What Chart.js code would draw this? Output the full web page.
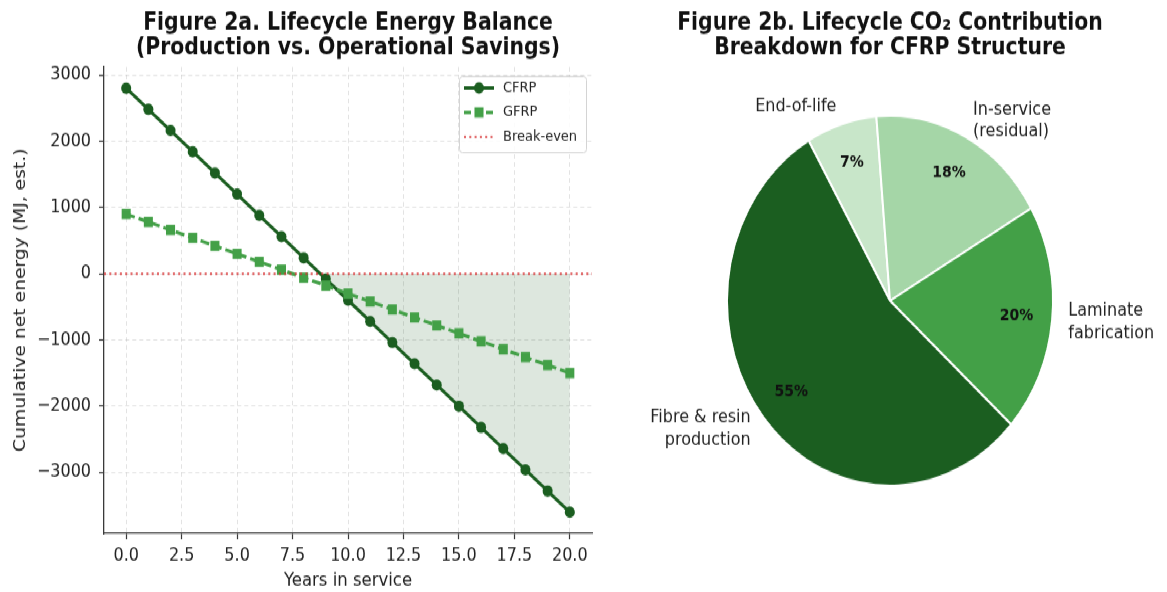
<!DOCTYPE html>
<html>
<head>
<meta charset="utf-8">
<script src="https://cdn.jsdelivr.net/npm/chart.js"></script>
<style>
  html, body { margin: 0; padding: 0; background: #ffffff; }
  #stage { position: relative; width: 1167px; height: 592px; overflow: hidden; }
  /* the figure is laid out on a 1167 x 522 board and stretched to 592 px tall */
  #board { position: absolute; left: 0; top: 0; width: 1167px; height: 522px;
           transform: scaleY(1.135); transform-origin: 0 0; }
  #energy { position: absolute; left: 0; top: 0; }
  #co2 { position: absolute; left: 610px; top: 0; }
</style>
</head>
<body>
<div id="stage">
  <div id="board">
    <canvas id="energy" width="610" height="522" style="width:610px;height:522px"></canvas>
    <canvas id="co2" width="560" height="522" style="width:560px;height:522px"></canvas>
  </div>
</div>
<script>
// ---- Figure 2a data: cumulative net energy (MJ) per year in service ----
const years = [0, 1, 2, 3, 4, 5, 6, 7, 8, 9, 10, 11, 12, 13, 14, 15, 16, 17, 18, 19, 20];
const cfrpEnergy = [2800, 2480, 2160, 1840, 1520, 1200, 880, 560, 240, -80, -400,
                    -720, -1040, -1360, -1680, -2000, -2320, -2640, -2960, -3280, -3600];
const gfrpEnergy = [900, 780, 660, 540, 420, 300, 180, 60, -60, -180, -300,
                    -420, -540, -660, -780, -900, -1020, -1140, -1260, -1380, -1500];
const breakEven = 0;
const yearTicks = [0, 2.5, 5, 7.5, 10, 12.5, 15, 17.5, 20];
const energyTicks = [-3000, -2000, -1000, 0, 1000, 2000, 3000];

// ---- Figure 2b data: lifecycle CO2 shares for the CFRP structure (%) ----
const co2Stages = ['Fibre & resin\nproduction', 'Laminate\nfabrication', 'In-service\n(residual)', 'End-of-life'];
const co2Shares = [55, 20, 18, 7];

const stageColors = ['#1b5e20', '#43a047', '#a5d6a7', '#c8e6c9'];
const FONT = 'DejaVu Sans';
Chart.defaults.font.family = FONT;
Chart.defaults.color = '#222222';

const toPoints = (ys) => years.map((x, i) => ({ x, y: ys[i] }));
const minus = (v) => (v < 0 ? '\u2212' + Math.abs(v) : String(v));

// Two-line bold heading centred over the plotting area
const figTitle = {
  id: 'figTitle',
  afterDraw(chart, args, opts) {
    const { ctx, chartArea } = chart;
    const cx = (chartArea.left + chartArea.right) / 2;
    ctx.save();
    ctx.font = 'bold 20.4px "' + FONT + '"';
    ctx.fillStyle = '#111111';
    ctx.textAlign = 'center';
    ctx.textBaseline = 'middle';
    opts.lines.forEach((t, k) => ctx.fillText(t, cx, opts.top + k * opts.gap));
    ctx.restore();
  }
};

// Framed key in the upper-right corner of the plot, with line + marker samples
const framedKey = {
  id: 'framedKey',
  afterDraw(chart) {
    const { ctx, chartArea } = chart;
    const items = chart.data.datasets.filter((d) => d.keyRank).sort((a, b) => a.keyRank - b.keyRank);
    const boxW = 127, rowH = 21.6, boxH = 67;
    const x0 = chartArea.right - 6 - boxW;
    const y0 = chartArea.top + 8;
    ctx.save();
    ctx.beginPath();
    ctx.roundRect(x0 + 0.5, y0 + 0.5, boxW, boxH, 3);
    ctx.fillStyle = 'rgba(255,255,255,0.85)';
    ctx.fill();
    ctx.strokeStyle = '#d4d4d4';
    ctx.lineWidth = 1;
    ctx.stroke();
    items.forEach((d, i) => {
      const cy = y0 + 10.5 + i * rowH;
      ctx.save();
      ctx.strokeStyle = d.borderColor;
      ctx.lineWidth = d.borderWidth;
      ctx.setLineDash(d.keyDash || d.borderDash || []);
      ctx.beginPath();
      ctx.moveTo(x0 + 5, cy);
      ctx.lineTo(x0 + 35, cy);
      ctx.stroke();
      ctx.restore();
      if (d.pointRadius > 0) {
        ctx.fillStyle = d.pointBackgroundColor;
        ctx.beginPath();
        if (d.pointStyle === 'rect') {
          const s = d.pointRadius * Math.SQRT1_2;
          ctx.rect(x0 + 20 - s, cy - s, 2 * s, 2 * s);
        } else {
          ctx.arc(x0 + 20, cy, d.pointRadius, 0, Math.PI * 2);
        }
        ctx.fill();
      }
      ctx.fillStyle = '#222222';
      ctx.font = '13px "' + FONT + '"';
      ctx.textAlign = 'left';
      ctx.textBaseline = 'middle';
      ctx.fillText(d.label, x0 + 44, cy);
    });
    ctx.restore();
  }
};

new Chart(document.getElementById('energy'), {
  type: 'line',
  data: {
    datasets: [
      {
        label: 'Break-even',
        data: [{ x: -1, y: breakEven }, { x: 21, y: breakEven }],
        borderColor: 'rgba(214,48,49,0.85)',
        borderWidth: 2,
        borderDash: [2, 3.3],
        pointRadius: 0,
        keyRank: 3,
        order: 0
      },
      {
        label: 'GFRP',
        data: toPoints(gfrpEnergy),
        borderColor: '#43a047',
        borderWidth: 3,
        borderDash: [9, 4],
        keyDash: [7, 4],
        pointStyle: 'rect',
        pointRadius: 6.4,
        pointBackgroundColor: '#43a047',
        pointBorderWidth: 0,
        keyRank: 2,
        order: 1
      },
      {
        label: 'CFRP',
        data: toPoints(cfrpEnergy),
        borderColor: '#1b5e20',
        borderWidth: 3,
        pointStyle: 'circle',
        pointRadius: 5,
        pointBackgroundColor: '#1b5e20',
        pointBorderWidth: 0,
        keyRank: 1,
        order: 2
      },
      {
        label: 'Net saving',
        data: toPoints(cfrpEnergy).filter((p) => p.y < breakEven),
        fill: { value: breakEven },
        backgroundColor: 'rgba(27,94,32,0.15)',
        borderColor: 'rgba(27,94,32,0.15)',
        borderWidth: 0,
        pointRadius: 0,
        keyRank: 0,
        order: 3
      }
    ]
  },
  options: {
    responsive: false,
    animation: false,
    events: [],
    layout: { padding: { left: 0, right: 18, top: 59, bottom: 0 } },
    plugins: {
      legend: { display: false },
      tooltip: { enabled: false },
      figTitle: {
        lines: ['Figure 2a. Lifecycle Energy Balance', '(Production vs. Operational Savings)'],
        top: 20.3,
        gap: 22.9
      }
    },
    scales: {
      x: {
        type: 'linear',
        min: -1,
        max: 21,
        afterBuildTicks: (s) => { s.ticks = yearTicks.map((v) => ({ value: v })); },
        afterFit: (s) => { s.height = 52; },
        ticks: { callback: (v) => Number(v).toFixed(1), font: { size: 16 }, color: '#222222', padding: 5, maxRotation: 0 },
        grid: { color: 'rgba(176,176,176,0.35)', lineWidth: 1, tickLength: 5, tickColor: '#3a3a3a', tickWidth: 1.2, tickBorderDash: [] },
        border: { display: true, color: '#3a3a3a', width: 1.3, dash: [4, 3] },
        title: { display: true, text: 'Years in service', font: { size: 16.5 }, color: '#222222', padding: { top: 0, bottom: 0 } }
      },
      y: {
        type: 'linear',
        min: -3920,
        max: 3120,
        afterBuildTicks: (s) => { s.ticks = energyTicks.map((v) => ({ value: v })); },
        afterFit: (s) => { s.width = 104; },
        ticks: { callback: (v) => minus(v), font: { size: 16 }, color: '#222222', padding: 8 },
        grid: { color: 'rgba(176,176,176,0.35)', lineWidth: 1, tickLength: 5, tickColor: '#3a3a3a', tickWidth: 1.2, tickBorderDash: [] },
        border: { display: true, color: '#3a3a3a', width: 1.3, dash: [4, 3] },
        title: { display: true, text: 'Cumulative net energy (MJ, est.)', font: { size: 16.5 }, color: '#222222', padding: { top: 11, bottom: 0 } }
      }
    }
  },
  plugins: [framedKey, figTitle]
});

// Slice names outside the pie and bold percentages inside it
const sliceText = {
  id: 'sliceText',
  afterDatasetsDraw(chart) {
    const { ctx } = chart;
    const meta = chart.getDatasetMeta(0);
    const values = chart.data.datasets[0].data;
    ctx.save();
    meta.data.forEach((arc, i) => {
      const { x, y, startAngle, endAngle, outerRadius } = arc.getProps(['x', 'y', 'startAngle', 'endAngle', 'outerRadius'], true);
      const mid = (startAngle + endAngle) / 2;
      const c = Math.cos(mid), s = Math.sin(mid);
      ctx.fillStyle = '#111111';
      ctx.font = 'bold 14px "' + FONT + '"';
      ctx.textAlign = 'center';
      ctx.textBaseline = 'middle';
      ctx.fillText(values[i] + '%', x + 0.78 * outerRadius * c, y + 0.78 * outerRadius * s);
      const lines = String(chart.data.labels[i]).split('\n');
      const lx = x + 1.1 * outerRadius * c, ly = y + 1.1 * outerRadius * s;
      const lh = 19.4;
      ctx.fillStyle = '#222222';
      ctx.font = '16px "' + FONT + '"';
      ctx.textAlign = c >= 0 ? 'left' : 'right';
      lines.forEach((t, k) => ctx.fillText(t, lx, ly + (k - (lines.length - 1) / 2) * lh));
    });
    ctx.restore();
  }
};

// slices run clockwise from End-of-life round to Fibre & resin production
const drawOrder = [3, 2, 1, 0];
new Chart(document.getElementById('co2'), {
  type: 'pie',
  data: {
    labels: drawOrder.map((i) => co2Stages[i]),
    datasets: [{
      data: drawOrder.map((i) => co2Shares[i]),
      backgroundColor: drawOrder.map((i) => stageColors[i]),
      borderColor: '#ffffff',
      borderWidth: 2,
      hoverOffset: 0,
      offset: 0,
      radius: 163
    }]
  },
  options: {
    responsive: false,
    animation: false,
    events: [],
    rotation: -30,
    layout: { padding: { left: 0, right: 0, top: 101, bottom: 93 } },
    plugins: {
      legend: { display: false },
      tooltip: { enabled: false },
      figTitle: {
        lines: ['Figure 2b. Lifecycle CO\u2082 Contribution', 'Breakdown for CFRP Structure'],
        top: 20.3,
        gap: 22.9
      }
    }
  },
  plugins: [sliceText, figTitle]
});
</script>
</body>
</html>
